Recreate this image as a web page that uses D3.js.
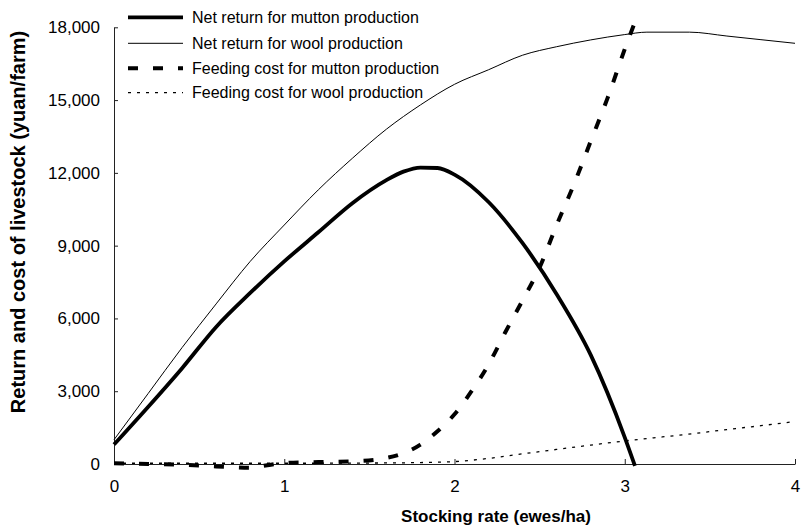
<!DOCTYPE html>
<html>
<head>
<meta charset="utf-8">
<script src="https://cdn.jsdelivr.net/npm/d3@7"></script>
<style>
  html, body { margin: 0; padding: 0; background: #fff; }
  svg { display: block; font-family: Arial, "Liberation Sans", sans-serif; }
</style>
</head>
<body>
<svg id="chart" width="801" height="525"></svg>
<script>
// ---- data ----
const seriesNames = [
  "Net return for mutton production",
  "Net return for wool production",
  "Feeding cost for mutton production",
  "Feeding cost for wool production"
];
const muttonReturnX = [0, 0.2, 0.4, 0.6, 0.8, 1.0, 1.2, 1.4, 1.6, 1.7, 1.8, 1.9, 2.0, 2.2, 2.4, 2.6, 2.8, 3.0, 3.06];
const muttonReturnY = [800, 2350, 3950, 5650, 7050, 8350, 9550, 10750, 11700, 12050, 12220, 12200, 11930, 10800, 9100, 7000, 4500, 1100, -80];

const woolReturnX = [0, 0.2, 0.4, 0.6, 0.8, 1.0, 1.2, 1.4, 1.6, 1.8, 2.0, 2.2, 2.4, 2.6, 2.8, 3.0, 3.13, 3.38, 3.6, 3.8, 4.0];
const woolReturnY = [1000, 2900, 4800, 6600, 8350, 9850, 11300, 12600, 13800, 14800, 15650, 16250, 16850, 17200, 17480, 17700, 17800, 17800, 17640, 17490, 17340];

const muttonCostX = [0, 0.2, 0.4, 0.6, 0.8, 0.9, 1.0, 1.2, 1.4, 1.6, 1.8, 1.9, 2.0, 2.1, 2.2, 2.3, 2.4, 2.5, 2.6, 2.7, 2.8, 2.9, 3.0, 3.07];
const muttonCostY = [30, 0, -30, -100, -150, -50, 40, 80, 110, 250, 800, 1350, 2050, 3000, 4100, 5450, 6750, 8100, 9850, 11500, 13300, 15100, 17100, 18400];

const woolCostX = [0, 1.0, 1.5, 1.8, 2.0, 2.2, 2.4, 2.6, 2.8, 3.0, 3.2, 3.4, 3.6, 3.8, 4.0];
const woolCostY = [30, 30, 40, 60, 100, 230, 420, 600, 780, 950, 1100, 1250, 1420, 1580, 1750];

const xTicks = [0, 1, 2, 3, 4];
const yTicks = [0, 3000, 6000, 9000, 12000, 15000, 18000];
const xTitle = "Stocking rate (ewes/ha)";
const yTitle = "Return and cost of livestock (yuan/farm)";

// ---- build ----
const svg = d3.select("#chart");
const x = d3.scaleLinear().domain([0, 4]).range([114, 795]);
const y = d3.scaleLinear().domain([0, 18000]).range([464, 27.3]);

const styles = [
  { w: 3.8, dash: null },
  { w: 1, dash: null },
  { w: 4, dash: "10,15" },
  { w: 1.3, dash: "3,6" }
];

const series = [
  d3.zip(muttonReturnX, muttonReturnY),
  d3.zip(woolReturnX, woolReturnY),
  d3.zip(muttonCostX, muttonCostY),
  d3.zip(woolCostX, woolCostY)
];

// axes
const fmt = d3.format(",");
const yAxis = d3.axisLeft(y).tickValues(yTicks).tickFormat(fmt).tickSizeInner(-4).tickSizeOuter(0).tickPadding(14);
const xAxis = d3.axisBottom(x).tickValues(xTicks).tickFormat(d3.format("d")).tickSizeInner(-5).tickSizeOuter(0).tickPadding(16);

const gy = svg.append("g").attr("transform", "translate(114,0)").call(yAxis);
const gx = svg.append("g").attr("transform", "translate(0,464)").call(xAxis);
[gx, gy].forEach(g => {
  g.select(".domain").attr("stroke", "#222").attr("stroke-width", 1);
  g.selectAll(".tick line").attr("stroke", "#222").attr("stroke-width", 1);
  g.selectAll(".tick text").attr("fill", "#000").style("font-size", "17px").style("font-family", "Arial, 'Liberation Sans', sans-serif");
});

// lines
const line = d3.line().x(d => x(d[0])).y(d => y(d[1])).curve(d3.curveMonotoneX);
series.forEach((data, i) => {
  svg.append("path")
    .datum(data)
    .attr("fill", "none")
    .attr("stroke", "#000")
    .attr("stroke-width", styles[i].w)
    .attr("stroke-dasharray", styles[i].dash)
    .attr("stroke-linejoin", "round")
    .attr("d", line);
});

// legend
const legendY = [17.3, 43.3, 68.3, 92.7];
const lg = svg.append("g");
seriesNames.forEach((name, i) => {
  lg.append("line")
    .attr("x1", 128).attr("x2", 183)
    .attr("y1", legendY[i]).attr("y2", legendY[i])
    .attr("stroke", "#000")
    .attr("stroke-width", styles[i].w)
    .attr("stroke-dasharray", styles[i].dash);
  lg.append("text")
    .attr("x", 192).attr("y", legendY[i]).attr("dy", "0.35em")
    .style("font-size", "16px")
    .attr("fill", "#000")
    .text(name);
});

// titles
svg.append("text")
  .attr("x", 496).attr("y", 522)
  .attr("text-anchor", "middle")
  .style("font-size", "17px").style("font-weight", "bold")
  .text(xTitle);

svg.append("text")
  .attr("transform", "translate(25,222) rotate(-90)")
  .attr("text-anchor", "middle")
  .style("font-size", "20px").style("font-weight", "bold")
  .text(yTitle);
</script>
</body>
</html>
